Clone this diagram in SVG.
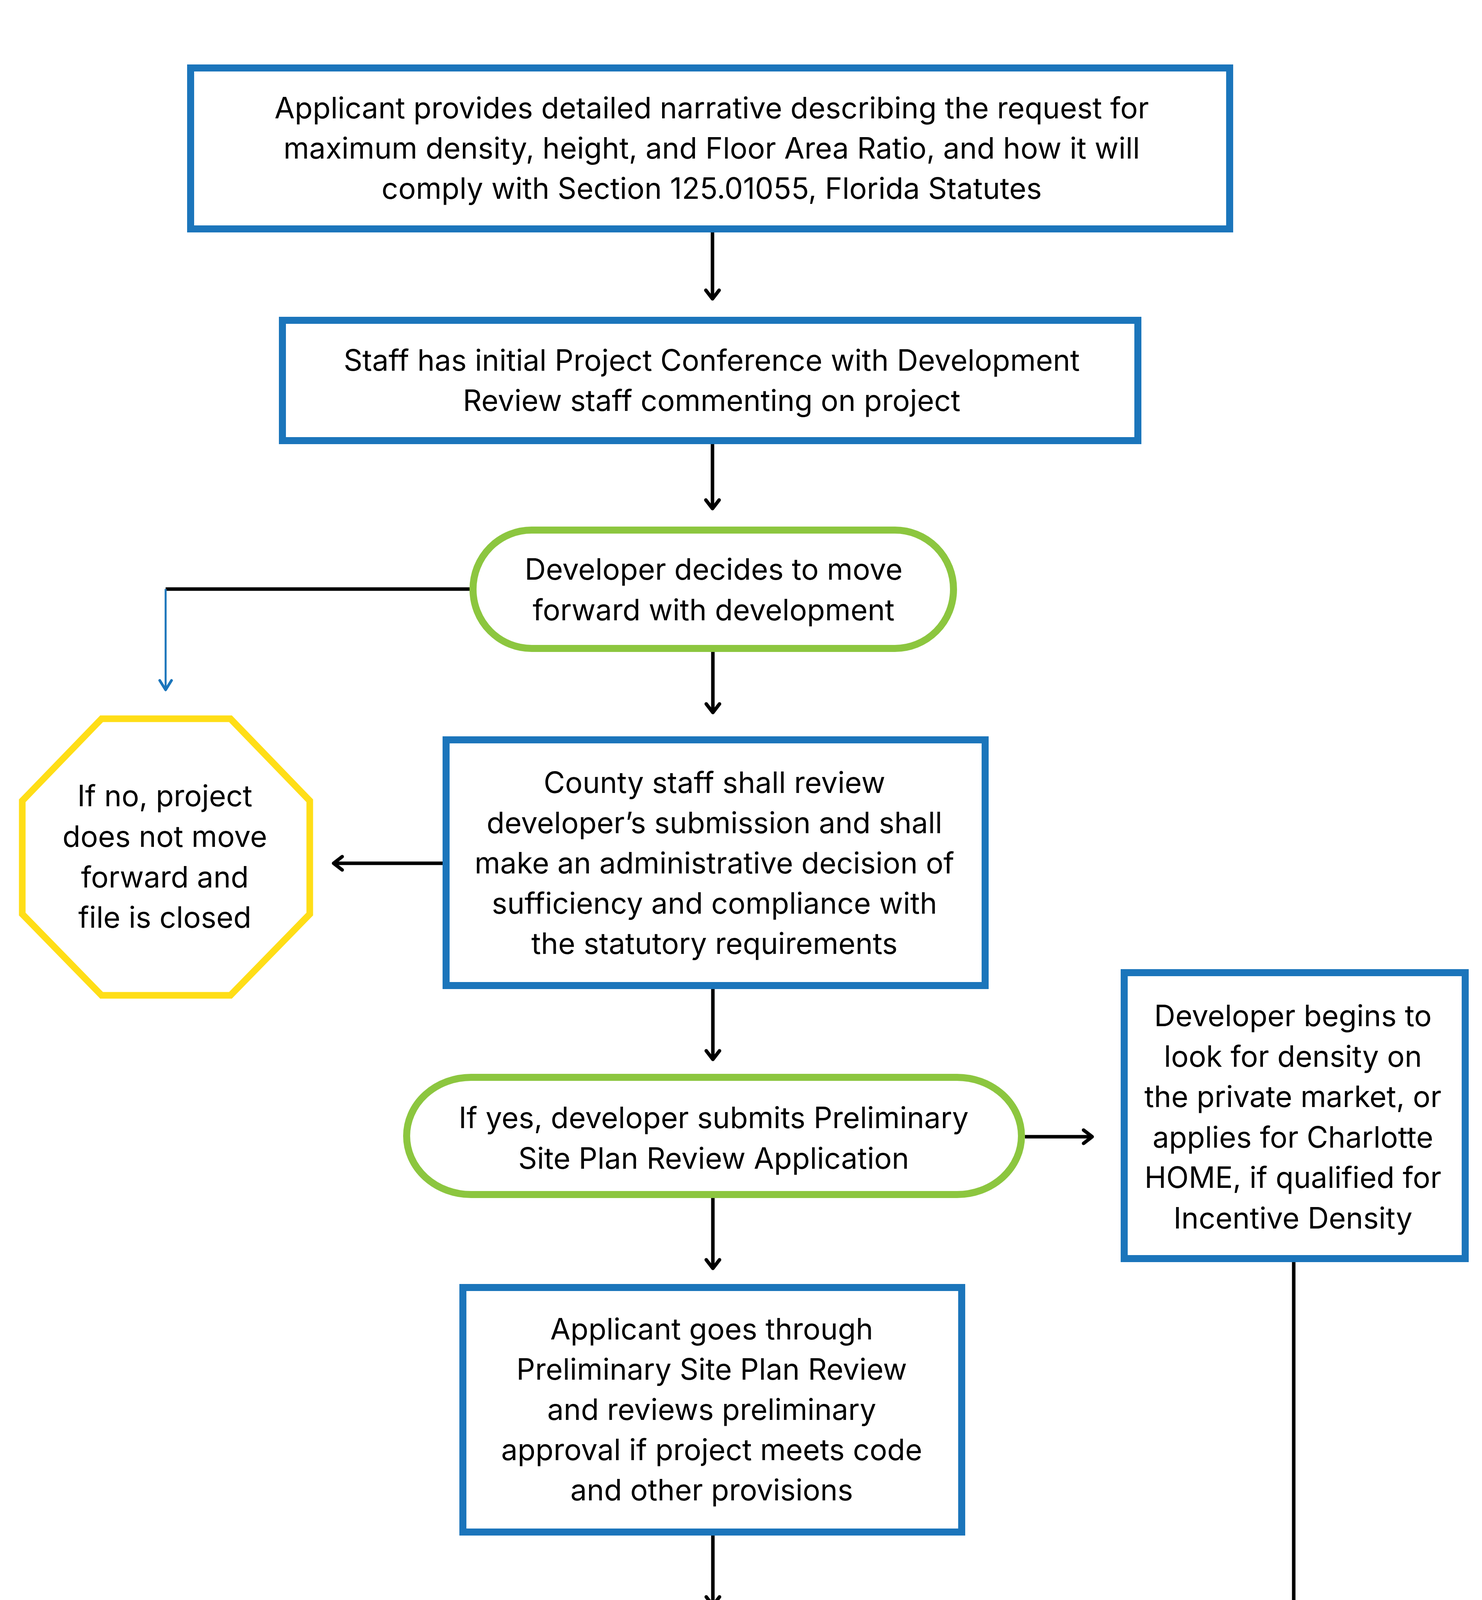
<svg xmlns="http://www.w3.org/2000/svg" width="3794" height="6250" viewBox="0 0 3794 6250">
<style>
.t{font-family:Inter,"Noto Sans","Liberation Sans",sans-serif;font-size:75px;fill:#000;text-anchor:middle}
.b{fill:#fff;stroke:#1B75BB;stroke-width:18}
.g{fill:#fff;stroke:#8CC63F;stroke-width:18}
.y{fill:#fff;stroke:#FFDE17;stroke-width:17}
.c{fill:none;stroke:#000;stroke-width:9}
.cb{fill:none;stroke:#1B75BB;stroke-width:5}
</style>
<defs>
<marker id="ah" markerUnits="userSpaceOnUse" markerWidth="70" markerHeight="70" viewBox="-35 -35 70 70" refX="0" refY="0" orient="auto">
<path d="M-22,-17 L0,0 L-22,17" fill="none" stroke="#000" stroke-width="9" stroke-linecap="round" stroke-linejoin="round"/>
</marker>
<marker id="ahb" markerUnits="userSpaceOnUse" markerWidth="70" markerHeight="70" viewBox="-35 -35 70 70" refX="0" refY="0" orient="auto">
<path d="M-24,-15 L0,0 L-24,15" fill="none" stroke="#1B75BB" stroke-width="7" stroke-linecap="round" stroke-linejoin="round"/>
</marker>
</defs>
<rect width="3794" height="6250" fill="#fff"/>
<g id="connectors">
<line class="c" x1="1824" y1="595" x2="1824" y2="765" marker-end="url(#ah)"/>
<line class="c" x1="1824" y1="1137" x2="1824" y2="1302" marker-end="url(#ah)"/>
<polyline class="c" points="1202,1508 424,1508"/>
<line class="cb" x1="424" y1="1508" x2="424" y2="1766" marker-end="url(#ahb)"/>
<line class="c" x1="1825" y1="1669" x2="1825" y2="1824" marker-end="url(#ah)"/>
<line class="c" x1="1133" y1="2210" x2="854" y2="2210" marker-end="url(#ah)"/>
<line class="c" x1="1825" y1="2532" x2="1825" y2="2712" marker-end="url(#ah)"/>
<line class="c" x1="2624" y1="2910" x2="2796" y2="2910" marker-end="url(#ah)"/>
<polyline class="c" points="3312,3231 3312,4357 2534,4357" marker-end="url(#ah)"/>
<line class="c" x1="1825" y1="3067" x2="1825" y2="3247" marker-end="url(#ah)"/>
<line class="c" x1="1825" y1="3931" x2="1825" y2="4110" marker-end="url(#ah)"/>
<line class="c" x1="1825" y1="4577" x2="1825" y2="4757" marker-end="url(#ah)"/>
<line class="c" x1="1305" y1="5003" x2="920" y2="5003" marker-end="url(#ah)"/>
<line class="c" x1="2341" y1="4997" x2="2586" y2="4997" marker-end="url(#ah)"/>
<line class="c" x1="3172" y1="5215" x2="3172" y2="5386" marker-end="url(#ah)"/>
<line class="c" x1="1828" y1="5294" x2="1828" y2="5398" marker-end="url(#ah)"/>
<line class="c" x1="2305" y1="5761" x2="2638" y2="5766" marker-end="url(#ah)"/>
</g>
<g id="n1">
<rect class="b" x="488" y="174" width="2660" height="412"/>
<text class="t" x="1822" y="303">Applicant provides detailed narrative describing the request for</text>
<text class="t" x="1822" y="406">maximum density, height, and Floor Area Ratio, and how it will</text>
<text class="t" x="1822" y="509">comply with Section 125.01055, Florida Statutes</text>
</g>
<g id="n2">
<rect class="b" x="723" y="820" width="2190" height="308"/>
<text class="t" x="1822" y="949">Staff has initial Project Conference with Development</text>
<text class="t" x="1822" y="1052">Review staff commenting on project</text>
</g>
<g id="n3">
<rect class="g" x="1211" y="1357" width="1230" height="303" rx="150" ry="151"/>
<text class="t" x="1827" y="1484">Developer decides to move</text>
<text class="t" x="1827" y="1588">forward with development</text>
</g>
<g id="n4">
<polygon class="y" points="260,1840 590,1840 793,2050 793,2340 590,2548 260,2548 57,2340 57,2050"/>
<text class="t" x="422" y="2064">If no, project</text>
<text class="t" x="422" y="2168">does not move</text>
<text class="t" x="422" y="2272">forward and</text>
<text class="t" x="422" y="2375">file is closed</text>
</g>
<g id="n5">
<rect class="b" x="1142" y="1894" width="1380" height="629"/>
<text class="t" x="1829" y="2030">County staff shall review</text>
<text class="t" x="1829" y="2133">developer’s submission and shall</text>
<text class="t" x="1829" y="2236">make an administrative decision of</text>
<text class="t" x="1829" y="2339">sufficiency and compliance with</text>
<text class="t" x="1829" y="2442">the statutory requirements</text>
</g>
<g id="n6">
<rect class="g" x="1041" y="2758" width="1574" height="300" rx="165" ry="150"/>
<text class="t" x="1827" y="2888">If yes, developer submits Preliminary</text>
<text class="t" x="1827" y="2992">Site Plan Review Application</text>
</g>
<g id="n7">
<rect class="b" x="2878" y="2490" width="873" height="732"/>
<text class="t" x="3310" y="2627">Developer begins to</text>
<text class="t" x="3310" y="2731">look for density on</text>
<text class="t" x="3310" y="2834">the private market, or</text>
<text class="t" x="3310" y="2938">applies for Charlotte</text>
<text class="t" x="3310" y="3041">HOME, if qualified for</text>
<text class="t" x="3310" y="3145">Incentive Density</text>
</g>
<g id="n8">
<rect class="b" x="1185" y="3296" width="1277" height="626"/>
<text class="t" x="1822" y="3429">Applicant goes through</text>
<text class="t" x="1822" y="3532">Preliminary Site Plan Review</text>
<text class="t" x="1822" y="3635">and reviews preliminary</text>
<text class="t" x="1822" y="3738">approval if project meets code</text>
<text class="t" x="1822" y="3841">and other provisions</text>
</g>
<g id="n9">
<rect class="b" x="1163" y="4158" width="1322" height="410"/>
<text class="t" x="1822" y="4284">Applicant applies for Transfer of</text>
<text class="t" x="1822" y="4387">Density Units (TDU) to transfer</text>
<text class="t" x="1822" y="4490">units onto property</text>
</g>
<g id="n10">
<polygon class="g" points="1825,4801 2332,4864 2332,5219 1825,5285 1314,5219 1314,4864"/>
<text class="t" x="1823" y="4964">Board of County</text>
<text class="t" x="1823" y="5068">Commissioners Meeting</text>
<text class="t" x="1823" y="5172">on Consent Agenda</text>
</g>
<g id="n11">
<polygon class="y" points="410,4705 705,4705 880,4878 880,5140 705,5322 410,5322 228,5140 228,4878"/>
<text class="t" x="555" y="4884">If denied,</text>
<text class="t" x="555" y="4987">project does</text>
<text class="t" x="555" y="5090">not move</text>
<text class="t" x="555" y="5193">forward</text>
</g>
<g id="n12">
<rect class="b" x="2663" y="4791" width="1013" height="415"/>
<text class="t" x="3166" y="4919">If approved, submit for</text>
<text class="t" x="3166" y="5022">Final Site Plan approval</text>
<text class="t" x="3166" y="5125">(administrative)</text>
</g>
<g id="n13">
<rect class="b" x="1350" y="5450" width="946" height="632"/>
<text class="t" x="1823" y="5640">Apply for any other local,</text>
<text class="t" x="1823" y="5743">state, or federal permits</text>
<text class="t" x="1823" y="5845">(SWFWMD, DEP,</text>
<text class="t" x="1823" y="5947">Utilities, FDOT, etc.)</text>
</g>
<g id="n14">
<rect class="g" x="2711" y="5447" width="898" height="636" rx="110" ry="110"/>
<text class="t" x="3163" y="5635">Project approved by</text>
<text class="t" x="3163" y="5738">Site Plan Review;</text>
<text class="t" x="3163" y="5841">developer may apply</text>
<text class="t" x="3163" y="5944">for building permits</text>
</g>
</svg>
